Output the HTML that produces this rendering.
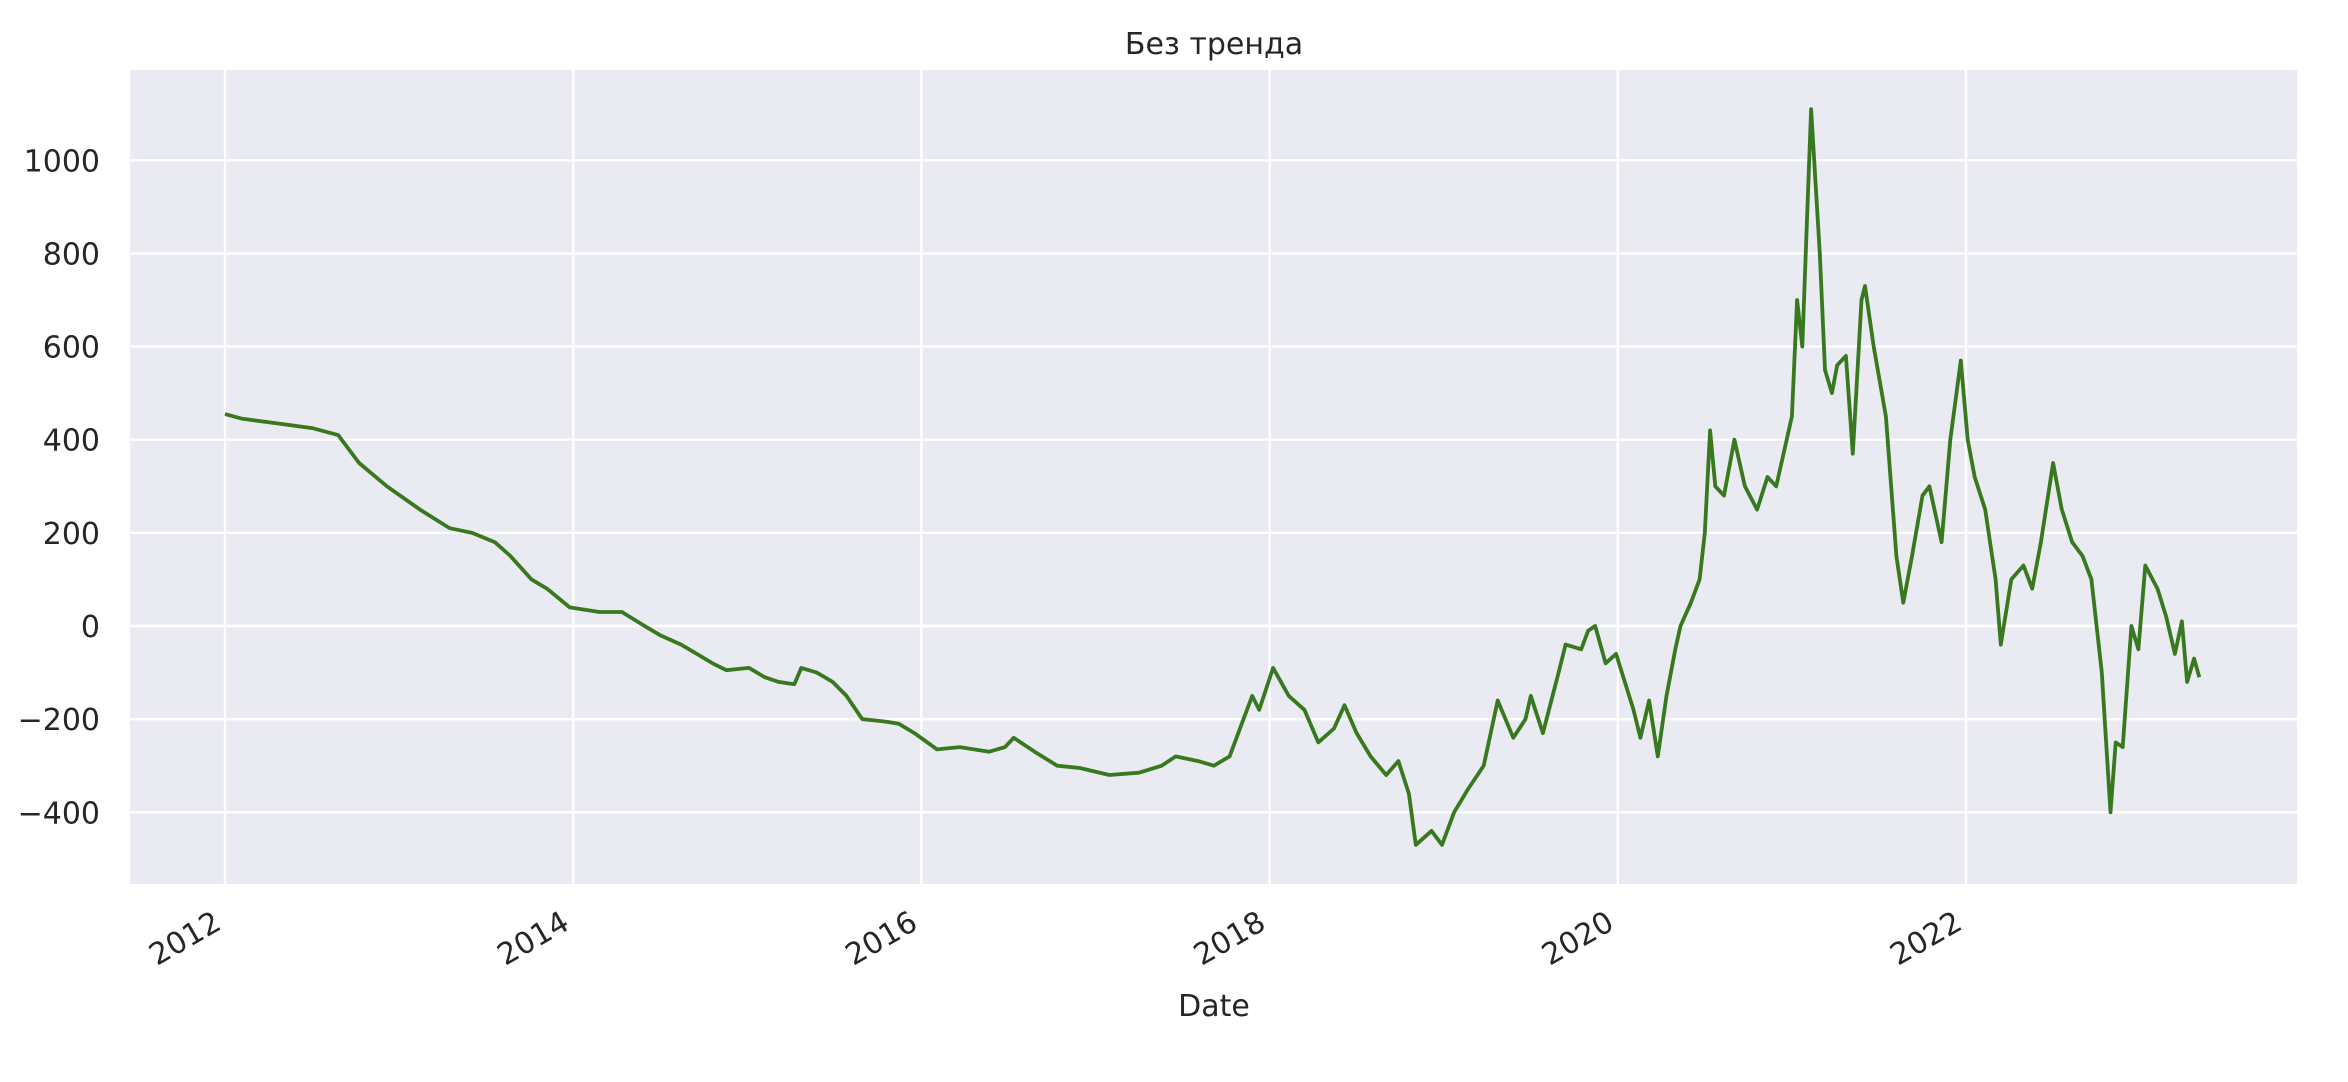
<!DOCTYPE html>
<html><head><meta charset="utf-8"><style>
html,body{margin:0;padding:0;background:#fff;}
svg{display:block;font-family:"DejaVu Sans","Liberation Sans",sans-serif;}
</style></head><body>
<svg id="chart" width="2348" height="1082">
<rect x="130" y="70" width="2167" height="814" fill="#eaeaf2"/>
<g id="grid"></g>
<g id="ticks"></g>
<path id="series" fill="none" stroke="#38791f" stroke-width="3.8" stroke-linejoin="round"/>
<text x="1214" y="54" text-anchor="middle" font-size="30" fill="#262626">Без тренда</text>
<text x="1214" y="1016" text-anchor="middle" font-size="30" fill="#262626">Date</text>
</svg>
<script>
const xTicks = [2012, 2014, 2016, 2018, 2020, 2022];
const yTicks = [-400, -200, 0, 200, 400, 600, 800, 1000];
const dates = [2012.00,2012.10,2012.30,2012.50,2012.65,2012.77,2012.93,2013.12,2013.29,2013.42,2013.55,2013.64,2013.76,2013.85,2013.98,2014.15,2014.28,2014.41,2014.50,2014.62,2014.71,2014.80,2014.88,2015.01,2015.10,2015.18,2015.27,2015.31,2015.40,2015.49,2015.57,2015.66,2015.79,2015.87,2015.96,2016.09,2016.22,2016.39,2016.48,2016.53,2016.65,2016.78,2016.91,2017.08,2017.25,2017.38,2017.46,2017.59,2017.68,2017.77,2017.85,2017.90,2017.94,2018.02,2018.11,2018.20,2018.28,2018.37,2018.43,2018.50,2018.58,2018.67,2018.74,2018.80,2018.84,2018.93,2018.99,2019.06,2019.14,2019.23,2019.27,2019.31,2019.40,2019.47,2019.50,2019.57,2019.66,2019.70,2019.79,2019.83,2019.87,2019.93,2019.99,2020.09,2020.13,2020.18,2020.23,2020.28,2020.33,2020.36,2020.42,2020.47,2020.50,2020.53,2020.56,2020.61,2020.67,2020.73,2020.80,2020.86,2020.91,2020.97,2021.00,2021.03,2021.06,2021.11,2021.16,2021.19,2021.23,2021.26,2021.31,2021.35,2021.40,2021.42,2021.47,2021.54,2021.60,2021.64,2021.69,2021.75,2021.79,2021.86,2021.91,2021.97,2022.01,2022.05,2022.11,2022.17,2022.20,2022.26,2022.33,2022.38,2022.43,2022.50,2022.55,2022.61,2022.67,2022.72,2022.78,2022.83,2022.86,2022.90,2022.95,2022.99,2023.03,2023.10,2023.15,2023.20,2023.24,2023.27,2023.31,2023.34];
const values = [455,445,435,425,410,350,300,250,210,200,180,150,100,80,40,30,30,0,-20,-40,-60,-80,-95,-90,-110,-120,-125,-90,-100,-120,-150,-200,-205,-210,-230,-265,-260,-270,-260,-240,-270,-300,-305,-320,-315,-300,-280,-290,-300,-280,-200,-150,-180,-90,-150,-180,-250,-220,-170,-230,-280,-320,-290,-360,-470,-440,-470,-400,-350,-300,-230,-160,-240,-200,-150,-230,-100,-40,-50,-10,0,-80,-60,-180,-240,-160,-280,-150,-50,0,50,100,200,420,300,280,400,300,250,320,300,400,450,700,600,1110,800,550,500,560,580,370,700,730,600,450,150,50,150,280,300,180,400,570,400,320,250,100,-40,100,130,80,180,350,250,180,150,100,-100,-400,-250,-260,0,-50,130,80,20,-60,10,-120,-70,-110];

const L=130,R=2297,T=70,B=884;
function xs(y){return 225+(y-2012)*174.1;}
function ys(v){return 626-v*0.4657;}
const NS='http://www.w3.org/2000/svg';
const grid=document.getElementById('grid'), ticks=document.getElementById('ticks');
yTicks.forEach(v=>{
  const l=document.createElementNS(NS,'line');
  l.setAttribute('x1',L);l.setAttribute('x2',R);l.setAttribute('y1',ys(v));l.setAttribute('y2',ys(v));
  l.setAttribute('stroke','#fff');l.setAttribute('stroke-width','2.4');
  
  
  grid.appendChild(l);
  const t=document.createElementNS(NS,'text');
  t.setAttribute('x',100);t.setAttribute('y',ys(v)+11);t.setAttribute('text-anchor','end');
  t.setAttribute('font-size','30');t.setAttribute('fill','#262626');
  t.textContent=v<0?'\u2212'+(-v):String(v);
  
  
  ticks.appendChild(t);
});
xTicks.forEach(y=>{
  const x=xs(y);
  const l=document.createElementNS(NS,'line');
  l.setAttribute('x1',x);l.setAttribute('x2',x);l.setAttribute('y1',T);l.setAttribute('y2',B);
  l.setAttribute('stroke','#fff');l.setAttribute('stroke-width','2.4');
  
  
  grid.appendChild(l);
  const t=document.createElementNS(NS,'text');
  t.setAttribute('x',0);t.setAttribute('y',0);t.setAttribute('text-anchor','end');
  t.setAttribute('font-size','30');t.setAttribute('fill','#262626');
  t.setAttribute('transform','translate('+(x-2)+','+(B+44)+') rotate(-30)');
  t.textContent=String(y);
  
  
  ticks.appendChild(t);
});
let d='';
dates.forEach((y,i)=>{d+=(i?'L':'M')+xs(y).toFixed(1)+','+ys(values[i]).toFixed(1);});
document.getElementById('series').setAttribute('d',d);
</script>
</body></html>
